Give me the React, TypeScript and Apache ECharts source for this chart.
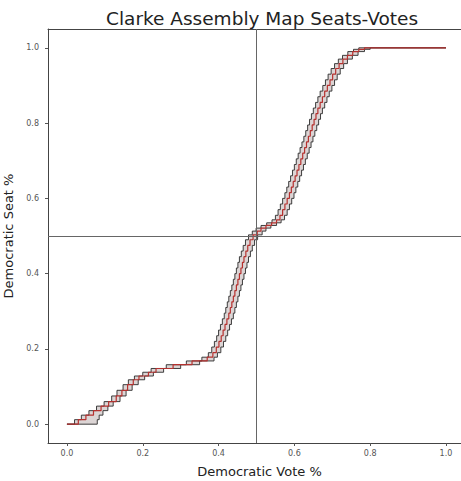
import React, { useEffect, useRef } from "react";
import * as echarts from "echarts";

const chartTitle = "Clarke Assembly Map Seats-Votes";
const xAxisLabel = "Democratic Vote %";
const yAxisLabel = "Democratic Seat %";
const tickValues = [0, 0.2, 0.4, 0.6, 0.8, 1.0];
const refVote = 0.5;
const refSeat = 0.5;

// Seat share levels of the step curve
const seatLevels = [
  0.0, 0.012, 0.024, 0.036, 0.048, 0.06, 0.075, 0.09, 0.105, 0.118, 0.128, 0.138, 0.148,
  0.158, 0.168, 0.178, 0.19, 0.205, 0.22, 0.235, 0.25, 0.265, 0.28, 0.295, 0.31, 0.325,
  0.34, 0.355, 0.37, 0.385, 0.4, 0.415, 0.43, 0.445, 0.46, 0.475, 0.49, 0.503, 0.513,
  0.521, 0.528, 0.535, 0.543, 0.555, 0.57, 0.585, 0.6, 0.615, 0.63, 0.645, 0.66, 0.675,
  0.69, 0.705, 0.72, 0.735, 0.75, 0.765, 0.78, 0.795, 0.81, 0.825, 0.84, 0.855, 0.87,
  0.885, 0.9, 0.915, 0.93, 0.945, 0.958, 0.97, 0.98, 0.99, 0.996, 1.0, 1.0,
];
// Central (red) estimate: vote share at which each seat level is reached
const voteMid = [
  0.0, 0.03, 0.05, 0.07, 0.09, 0.11, 0.13, 0.145, 0.16, 0.175, 0.19, 0.215, 0.235,
  0.28, 0.33, 0.37, 0.385, 0.394, 0.401, 0.407, 0.412, 0.417, 0.422, 0.427, 0.431, 0.435,
  0.439, 0.443, 0.447, 0.451, 0.455, 0.459, 0.463, 0.467, 0.472, 0.477, 0.483, 0.491, 0.502,
  0.512, 0.525, 0.54, 0.553, 0.562, 0.569, 0.575, 0.581, 0.587, 0.592, 0.597, 0.602, 0.607,
  0.612, 0.617, 0.622, 0.627, 0.632, 0.637, 0.642, 0.647, 0.652, 0.657, 0.662, 0.668, 0.674,
  0.68, 0.687, 0.694, 0.701, 0.709, 0.718, 0.728, 0.74, 0.754, 0.77, 0.785, 1.0,
];
// Upper-left edge of the band
const voteLeft = [
  0.0, 0.02, 0.038, 0.058, 0.078, 0.098, 0.118, 0.132, 0.148, 0.162, 0.178, 0.2, 0.222,
  0.262, 0.315, 0.356, 0.373, 0.382, 0.389, 0.395, 0.4, 0.405, 0.41, 0.415, 0.419, 0.423,
  0.427, 0.431, 0.435, 0.439, 0.443, 0.447, 0.451, 0.455, 0.46, 0.465, 0.471, 0.479, 0.489,
  0.499, 0.512, 0.527, 0.541, 0.55, 0.557, 0.563, 0.569, 0.575, 0.58, 0.585, 0.59, 0.595,
  0.6, 0.605, 0.61, 0.615, 0.62, 0.625, 0.63, 0.635, 0.64, 0.645, 0.65, 0.656, 0.662,
  0.668, 0.675, 0.682, 0.689, 0.697, 0.706, 0.716, 0.727, 0.741, 0.756, 0.77, 1.0,
];
// Lower-right edge of the band
const voteRight = [
  0.0, 0.08, 0.085, 0.095, 0.108, 0.122, 0.14, 0.156, 0.172, 0.188, 0.205, 0.228, 0.255,
  0.3, 0.35, 0.388, 0.397, 0.406, 0.413, 0.419, 0.424, 0.429, 0.434, 0.439, 0.443, 0.447,
  0.451, 0.455, 0.459, 0.463, 0.467, 0.471, 0.475, 0.479, 0.484, 0.489, 0.495, 0.503, 0.515,
  0.525, 0.538, 0.553, 0.565, 0.574, 0.581, 0.587, 0.593, 0.599, 0.604, 0.609, 0.614, 0.619,
  0.624, 0.629, 0.634, 0.639, 0.644, 0.649, 0.654, 0.659, 0.664, 0.669, 0.674, 0.68, 0.686,
  0.692, 0.699, 0.706, 0.713, 0.721, 0.73, 0.74, 0.753, 0.768, 0.785, 0.8, 1.0,
];

const toPairs = (xs: number[], ys: number[]) => xs.map((x, i) => [x, ys[i]]);

const stepExpand = (pts: number[][]) => {
  const out: number[][] = [];
  pts.forEach((p, i) => {
    if (i > 0) out.push([p[0], pts[i - 1][1]]);
    out.push(p);
  });
  return out;
};

export default function App() {
  const ref = useRef<HTMLDivElement>(null);
  useEffect(() => {
    if (!ref.current) return;
    const chart = echarts.init(ref.current, undefined, { renderer: "svg" });
    const midPts = toPairs(voteMid, seatLevels);
    const leftPts = toPairs(voteLeft, seatLevels);
    const rightPts = toPairs(voteRight, seatLevels);
    const bandPts = stepExpand(leftPts).concat(stepExpand(rightPts).reverse());
    const font = "DejaVu Sans";
    const tickLabel = {
      customValues: tickValues,
      formatter: (v: number) => v.toFixed(1),
      fontFamily: font,
      fontSize: 8,
      color: "#555",
    };
    chart.setOption({
      animation: false,
      title: {
        text: chartTitle,
        left: 257,
        textAlign: "center",
        top: 4,
        textStyle: { fontFamily: font, fontSize: 18.5, fontWeight: "normal", color: "#222" },
      },
      grid: {
        left: 48,
        right: -10,
        top: 29,
        bottom: 38,
        show: false,
        containLabel: false,
        outerBoundsMode: "none",
      },
      xAxis: [
        {
          type: "value",
          min: -0.05,
          max: 1.066,
          name: xAxisLabel,
          nameLocation: "middle",
          nameGap: 22,
          nameTextStyle: { fontFamily: font, fontSize: 13, color: "#222" },
          splitLine: { show: false },
          axisLine: { show: true, onZero: false, lineStyle: { color: "#444", width: 1 } },
          axisTick: { show: true, customValues: tickValues, length: 3, lineStyle: { color: "#555" } },
          axisLabel: { ...tickLabel, margin: 6 },
        },
        {
          type: "value",
          position: "top",
          min: -0.05,
          max: 1.066,
          splitLine: { show: false },
          axisLine: { show: true, onZero: false, lineStyle: { color: "#444", width: 1 } },
          axisTick: { show: false },
          axisLabel: { show: false },
        },
      ],
      yAxis: {
        type: "value",
        min: -0.05,
        max: 1.05,
        name: yAxisLabel,
        nameLocation: "middle",
        nameGap: 21,
        nameTextStyle: { fontFamily: font, fontSize: 13, color: "#222" },
        splitLine: { show: false },
        axisLine: { show: true, onZero: false, lineStyle: { color: "#444", width: 1 } },
        axisTick: { show: true, customValues: tickValues, length: 3, lineStyle: { color: "#555" } },
        axisLabel: { ...tickLabel, margin: 9 },
      },
      series: [
        {
          type: "custom",
          silent: true,
          z: 1,
          data: [[0, 0]],
          renderItem: (_params: any, api: any) => ({
            type: "polygon",
            shape: { points: bandPts.map((p) => api.coord(p)) },
            style: { fill: "#dcd5d5", stroke: "none" },
          }),
        },
        {
          type: "line",
          data: leftPts,
          step: "end",
          showSymbol: false,
          silent: true,
          z: 2,
          lineStyle: { color: "#2a2a2a", width: 0.9 },
        },
        {
          type: "line",
          data: rightPts,
          step: "end",
          showSymbol: false,
          silent: true,
          z: 2,
          lineStyle: { color: "#2a2a2a", width: 0.9 },
        },
        {
          type: "line",
          data: midPts,
          step: "end",
          showSymbol: false,
          silent: true,
          z: 3,
          lineStyle: { color: "#b5312f", width: 1.2 },
          markLine: {
            silent: true,
            symbol: "none",
            label: { show: false },
            lineStyle: { color: "#666", width: 1, type: "solid" },
            data: [{ xAxis: refVote }, { yAxis: refSeat }],
          },
        },
      ],
    });
    return () => chart.dispose();
  }, []);
  return (
    <div
      ref={ref}
      style={{ position: "fixed", left: 0, top: 0, width: 461, height: 481, background: "#fff" }}
    />
  );
}
